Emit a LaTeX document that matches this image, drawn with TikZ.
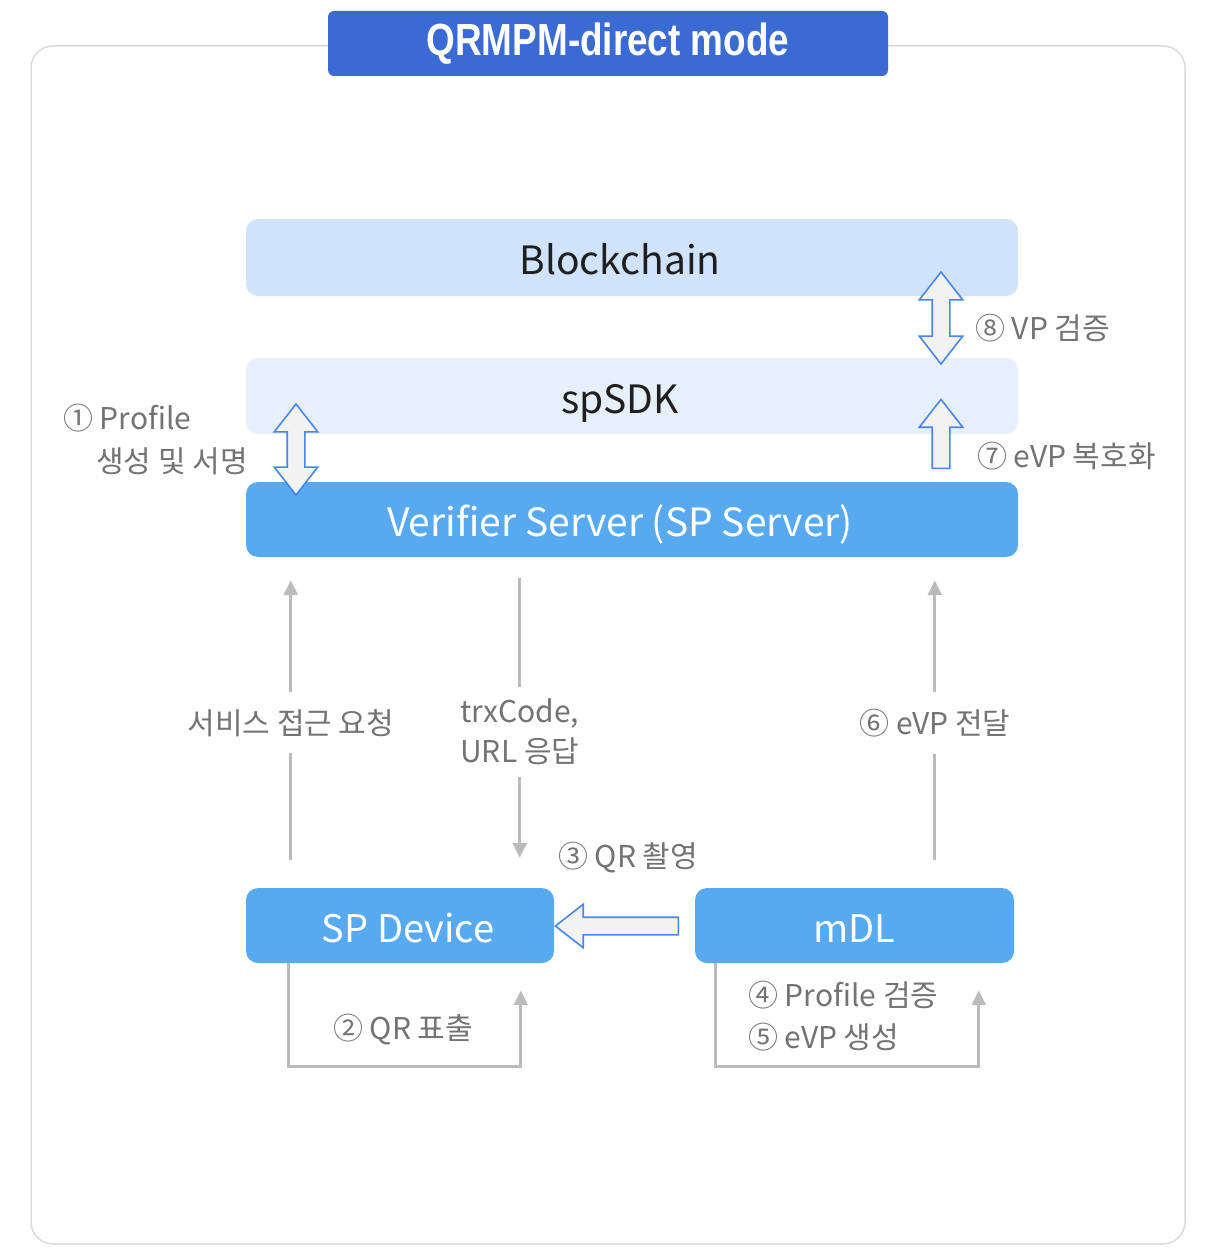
\documentclass[tikz,border=0pt]{standalone}
\usepackage{fontspec}
\setmainfont{Noto Sans CJK KR}
\newfontfamily\titlefont{Liberation Sans}[FakeStretch=0.82]
\usetikzlibrary{shapes.arrows,arrows.meta}
\definecolor{titleblue}{RGB}{58,107,212}
\definecolor{bcfill}{RGB}{207,227,250}
\definecolor{sdkfill}{RGB}{229,240,252}
\definecolor{vsfill}{RGB}{88,170,240}
\definecolor{framegray}{RGB}{218,218,218}
\definecolor{connGray}{RGB}{187,187,187}
\definecolor{labGray}{RGB}{115,115,115}
\definecolor{hollowBlue}{RGB}{74,134,232}
\definecolor{hollowFill}{RGB}{242,242,242}
\tikzset{
  layerbox/.style={rectangle, rounded corners=12pt, minimum width=772pt, inner sep=0pt,
     text height=34pt, text depth=0pt, font=\fontsize{39}{45}\selectfont},
  devbox/.style={rectangle, rounded corners=12pt, fill=vsfill, text=white, minimum height=75pt,
     inner sep=0pt, text height=34pt, text depth=0pt, font=\fontsize{38}{44}\selectfont},
  grayconn/.style={draw=connGray, line width=2.8pt, -{Triangle[length=15pt,width=14pt]}},
  graylabel/.style={text=labGray, font=\fontsize{30}{40}\selectfont, inner sep=0pt},
  gaplabel/.style={graylabel, fill=white, inner xsep=4pt, inner ysep=17pt},
  fatdouble/.style={double arrow, draw=hollowBlue, fill=hollowFill, line width=1.6pt,
     inner xsep=0pt, inner ysep=8pt, minimum width=42pt, double arrow head extend=13pt,
     double arrow tip angle=76},
  fatsingle/.style={single arrow, draw=hollowBlue, fill=hollowFill, line width=1.6pt,
     inner xsep=0pt, inner ysep=8pt, minimum width=42pt, single arrow head extend=13pt,
     single arrow tip angle=76},
}
\begin{document}
\begin{tikzpicture}[x=1pt,y=1pt]
\useasboundingbox (0,0) rectangle (1216,-1260);
% outer frame
\draw[draw=framegray, line width=1.5pt, rounded corners=22pt, fill=white] (31,-46) rectangle (1185,-1244);
% title
\node[fill=titleblue, rounded corners=6pt, minimum width=560pt, minimum height=65pt, inner sep=0pt,
      text=white, font=\titlefont\bfseries\fontsize{45}{50}\selectfont] (title) at (608,-43.5) {QRMPM-direct mode};
% layers
\node[layerbox, fill=bcfill, minimum height=77pt, text=black!88] (bc) at (632,-257.5) {Blockchain\hspace*{24pt}};
\node[layerbox, fill=sdkfill, minimum height=76pt, text=black!88] (sdk) at (632,-396) {spSDK\hspace*{24pt}};
\node[layerbox, fill=vsfill, minimum height=75pt, text=white] (vs) at (632,-519.5) {Verifier Server (SP Server)\hspace*{24pt}};
% devices
\node[devbox, minimum width=308pt] (spd) at (400,-925.5) {\hspace*{16pt}SP Device};
\node[devbox, minimum width=319pt] (mdl) at (854.5,-925.5) {mDL};
% gray connectors
\draw[grayconn] ([shift={(45,28)}]spd.north west) -- ([shift={(45,-23)}]vs.south west)
  node[gaplabel, pos=0.49] (l1) {서비스 접근 요청};
\draw[grayconn] ([shift={(274,-21)}]vs.south west) -- ([shift={(274,30)}]spd.north west)
  node[gaplabel, pos=0.55, align=center, inner ysep=12pt] (l2) {trxCode,\\URL 응답};
\draw[grayconn] ([shift={(240,28)}]mdl.north west) -- ([shift={(689,-23)}]vs.south west)
  node[gaplabel, pos=0.49] (l6) {⑥ eVP 전달};
% loops
\draw[grayconn] ([xshift=43pt]spd.south west) |- ([shift={(275,-103)}]spd.south west)
  -- ([shift={(275,-27)}]spd.south west);
\draw[grayconn] ([xshift=21pt]mdl.south west) |- ([shift={(284,-103)}]mdl.south west)
  -- ([shift={(284,-27)}]mdl.south west);
% hollow arrows
\node[fatdouble, minimum height=91pt, rotate=90] (h1) at (296,-449.5) {};
\node[fatdouble, minimum height=92pt, rotate=90] (h8) at (941,-318) {};
\node[fatsingle, minimum height=69pt, rotate=90] (h7) at (941,-439.5) {};
\node[fatsingle, minimum height=123pt, rotate=180] (h3) at (622.5,-926) {};
% labels
\node[graylabel, anchor=west] (t8) at (975,-328) {⑧ VP 검증};
\node[graylabel, anchor=west] (t7) at (977,-456) {⑦ eVP 복호화};
\node[graylabel, anchor=west] (t1a) at (63,-418) {① Profile};
\node[graylabel, anchor=west] (t1b) at (96,-461) {생성 및 서명};
\node[graylabel] (t3) at (628,-858) {③ QR 촬영};
\node[graylabel] (t2) at (403,-1030) {② QR 표출};
\node[graylabel, anchor=west] (t4) at (748,-995) {④ Profile 검증};
\node[graylabel, anchor=west] (t5) at (748,-1037) {⑤ eVP 생성};
\end{tikzpicture}
\end{document}
